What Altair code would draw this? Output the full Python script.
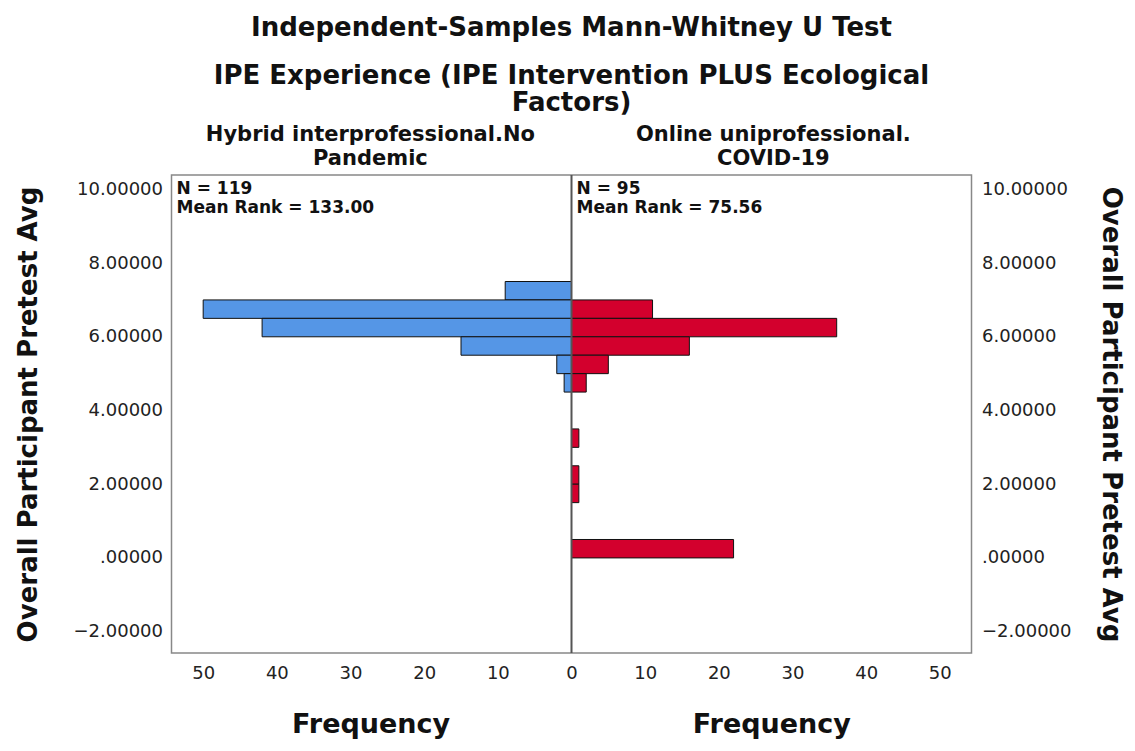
import altair as alt
import pandas as pd

# ---------------- data ----------------
group_headers = ["Hybrid interprofessional.No\nPandemic", "Online uniprofessional.\nCOVID-19"]
n_labels = ["N = 119", "N = 95"]
mean_rank_labels = ["Mean Rank = 133.00", "Mean Rank = 75.56"]

left_bin_start = [7.0, 6.5, 6.0, 5.5, 5.0, 4.5]
left_counts = [9, 50, 42, 15, 2, 1]

right_bin_start = [6.5, 6.0, 5.5, 5.0, 4.5, 3.0, 2.0, 1.5, 0.0]
right_counts = [11, 36, 16, 5, 2, 1, 1, 1, 22]

bin_width = 0.5
y_ticks = [-2, 0, 2, 4, 6, 8, 10]
x_ticks = [-50, -40, -30, -20, -10, 0, 10, 20, 30, 40, 50]
x_max = 54.3
y_domain = [-2.58, 10.39]

BLUE = "#5596E6"
RED = "#D3002D"
FONT = "'DejaVu Sans', Verdana, sans-serif"

W, H = 800, 478

left_df = pd.DataFrame({
    "lo": left_bin_start,
    "hi": [b + bin_width for b in left_bin_start],
    "xs": [-c for c in left_counts],
    "xe": [0] * len(left_counts),
})
right_df = pd.DataFrame({
    "lo": right_bin_start,
    "hi": [b + bin_width for b in right_bin_start],
    "xs": [0] * len(right_counts),
    "xe": right_counts,
})

x_scale = alt.Scale(domain=[-x_max, x_max], nice=False, zero=False)
y_scale = alt.Scale(domain=y_domain, nice=False, zero=False)

y_label_expr = "datum.value == 0 ? '.00000' : format(datum.value, '.5f')"

x_axis = alt.Axis(values=x_ticks, labelExpr="'' + abs(datum.value)", title=None,
                  ticks=False, domain=False, grid=False, labelFontSize=18,
                  labelFont=FONT, labelColor="#222", labelPadding=11)

left_bars = alt.Chart(left_df).mark_rect(color=BLUE, stroke="#111", strokeWidth=1).encode(
    x=alt.X("xs:Q", scale=x_scale, axis=x_axis),
    x2="xe:Q",
    y=alt.Y("lo:Q", scale=y_scale, axis=alt.Axis(
        orient="left", values=y_ticks, labelExpr=y_label_expr, ticks=False, domain=False,
        grid=False, labelFontSize=18, labelFont=FONT, labelColor="#222", labelPadding=9,
        title="Overall Participant Pretest Avg", titleFont=FONT, titleFontSize=26,
        titleFontWeight="bold", titleColor="#111", titleX=-143, titleY=H / 2,
        titleBaseline="middle", titleAlign="center")),
    y2="hi:Q",
)

right_bars = alt.Chart(right_df).mark_rect(color=RED, stroke="#111", strokeWidth=1).encode(
    x=alt.X("xs:Q", scale=x_scale, axis=x_axis),
    x2="xe:Q",
    y=alt.Y("lo:Q", scale=y_scale, axis=alt.Axis(
        orient="right", values=y_ticks, labelExpr=y_label_expr, ticks=False, domain=False,
        grid=False, labelFontSize=18, labelFont=FONT, labelColor="#222", labelPadding=10,
        title="Overall Participant Pretest Avg", titleFont=FONT, titleFontSize=26,
        titleFontWeight="bold", titleColor="#111", titleX=139, titleY=H / 2,
        titleBaseline="middle", titleAlign="center", titleAngle=90)),
    y2="hi:Q",
)

center_rule = alt.Chart(pd.DataFrame({"x": [0]})).mark_rule(color="#555", strokeWidth=2).encode(
    x=alt.X("x:Q", scale=x_scale, axis=x_axis)
)

ann_df = pd.DataFrame({
    "x": [-x_max, 0],
    "label": [f"{n}\n{m}" for n, m in zip(n_labels, mean_rank_labels)],
})
annotations = alt.Chart(ann_df).mark_text(
    align="left", baseline="top", lineBreak="\n", lineHeight=19, dx=5,
    font=FONT, fontSize=17, fontWeight="bold", color="#111"
).encode(x=alt.X("x:Q", scale=x_scale, axis=x_axis), y=alt.value(6), text="label:N")

head_df = pd.DataFrame({"x": [-27.3, 27.4], "label": group_headers})
headers = alt.Chart(head_df).mark_text(
    align="center", baseline="alphabetic", lineBreak="\n", lineHeight=24,
    font=FONT, fontSize=21, fontWeight="bold", color="#111"
).encode(x=alt.X("x:Q", scale=x_scale, axis=x_axis), y=alt.value(-34), text="label:N")

freq_df = pd.DataFrame({"x": [-27.2, 27.2], "label": ["Frequency", "Frequency"]})
freq = alt.Chart(freq_df).mark_text(
    align="center", baseline="middle", font=FONT, fontSize=27, fontWeight="bold", color="#111"
).encode(x=alt.X("x:Q", scale=x_scale, axis=x_axis), y=alt.value(H + 72), text="label:N")

chart = alt.layer(left_bars, right_bars, center_rule, annotations, headers, freq).resolve_scale(
    y="independent"
).properties(
    width=W, height=H,
    autosize="none",
    padding={"left": 163.5, "top": 167, "right": 155, "bottom": 90},
    title=alt.TitleParams(
        text="Independent-Samples Mann-Whitney U Test",
        subtitle=["IPE Experience (IPE Intervention PLUS Ecological", "Factors)"],
        anchor="middle", frame="group", font=FONT, fontSize=26, fontWeight="bold", color="#111",
        subtitleFont=FONT, subtitleFontSize=26, subtitleFontWeight="bold", subtitleColor="#111",
        subtitleLineHeight=27, subtitlePadding=22, offset=8,
    ),
).configure_view(stroke="#888", strokeWidth=1.5)

chart.save("out.html", embed_options={"renderer": "svg", "actions": False})
